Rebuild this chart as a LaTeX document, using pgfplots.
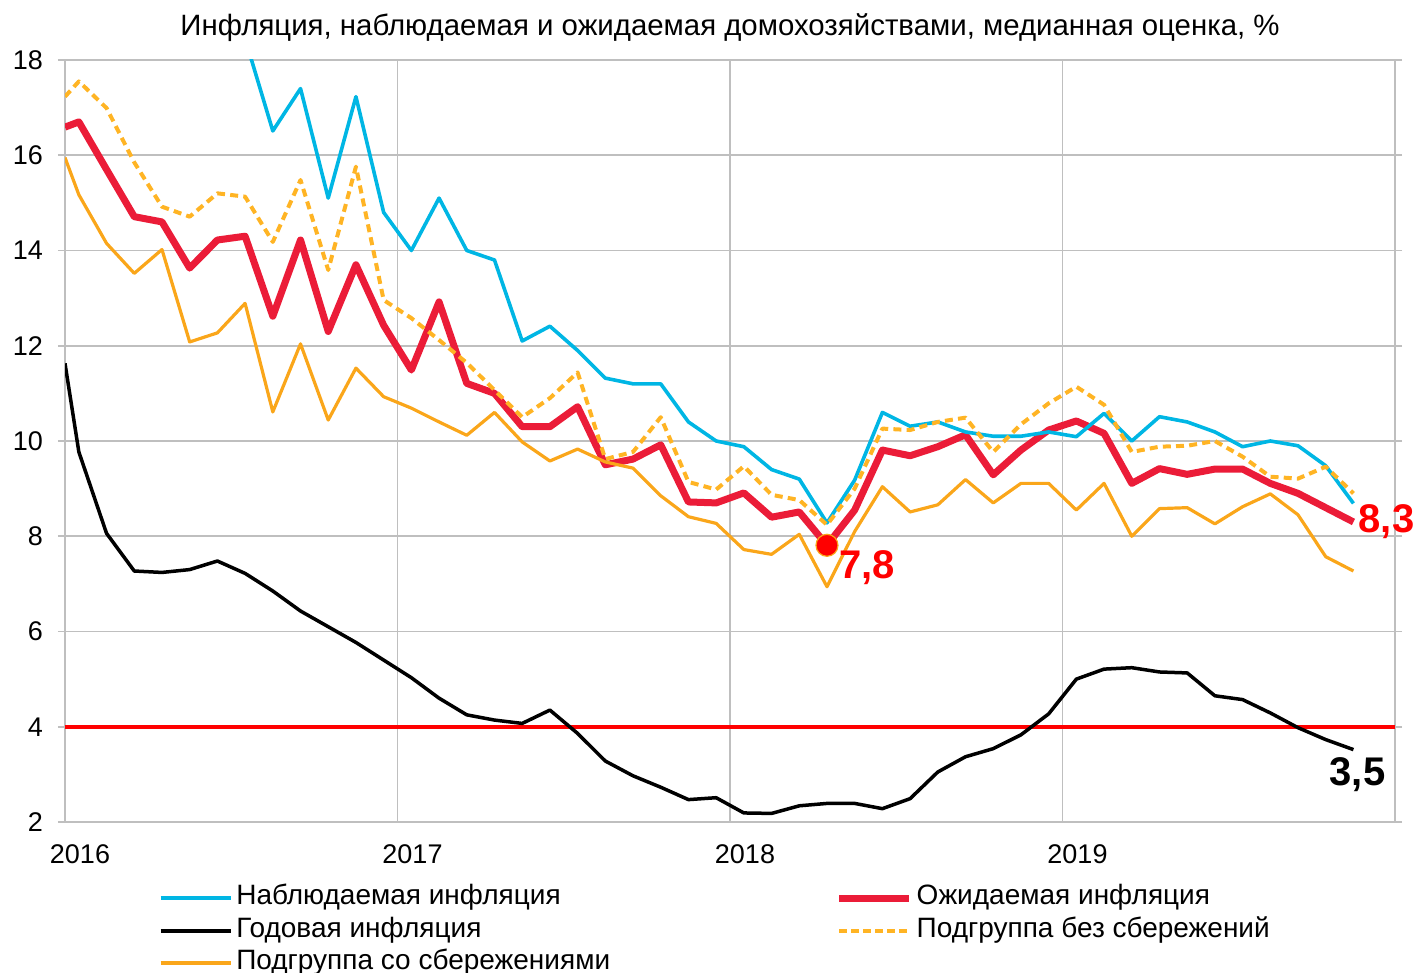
\documentclass[border=0pt]{standalone}
\usepackage{pgfplots}
\pgfplotsset{compat=1.18}
\usepackage{fontspec}
\setmainfont{Liberation Sans}
\definecolor{cblue}{RGB}{0,182,228}
\definecolor{cred}{RGB}{235,28,56}
\definecolor{pred}{RGB}{255,0,0}
\definecolor{corange}{RGB}{250,166,26}
\definecolor{cdash}{RGB}{255,180,36}
\definecolor{cgrid}{RGB}{191,191,191}
\begin{document}
\begin{tikzpicture}
\path[use as bounding box] (-32.5pt,-75.5pt) rectangle (674pt,411pt);
\begin{axis}[
  scale only axis, width=665pt, height=381pt,
  xmin=0, xmax=48, ymin=2, ymax=18,
  clip mode=individual,
  /pgf/number format/assume math mode=true,
  font=\fontsize{13.5}{15}\selectfont,
  xtick={0,12,24,36,48}, xticklabels={2016,2017,2018,2019,},
  xticklabel style={xshift=7.5pt, yshift=-4.5pt},
  major x tick style={draw=none},
  ytick={2,4,...,18},
  tick align=outside, major tick length=3.5pt,
  major y tick style={cgrid, line width=0.9pt},
  yticklabel style={xshift=-4pt},
  grid=major, major grid style={cgrid, line width=0.9pt},
  axis line style={cgrid, line width=0.9pt},
  title={Инфляция, наблюдаемая и ожидаемая домохозяйствами, медианная оценка, \%},
  title style={at={(0.5,1)}, anchor=base, yshift=6pt, font=\fontsize{14.7}{16}\selectfont},
  legend columns=2,
  legend cell align=left,
  legend style={draw=none, fill=none, at={(0.07,-0.078)}, anchor=north west,
    font=\fontsize{14}{16}\selectfont, inner sep=0pt, row sep=0pt,
    nodes={inner sep=1.9pt, text height=9.5pt, text depth=3pt},
    /tikz/column 2/.style={column sep=111pt}},
  legend image code/.code={\draw[#1] (0pt,0pt) -- (35pt,0pt);},
]
% 4% target
\addplot[forget plot, pred, line width=2pt] coordinates {(0,4) (48,4)};
% Expected inflation (red)
\addplot[forget plot, cred, line width=3.5pt, line join=round] coordinates {
(0,16.59) (0.5,16.7) (1.5,15.7) (2.5,14.71) (3.5,14.6) (4.5,13.63) (5.5,14.22) (6.5,14.3)
(7.5,12.62) (8.5,14.22) (9.5,12.3) (10.5,13.7) (11.5,12.43) (12.5,11.49) (13.5,12.92)
(14.5,11.21) (15.5,11.0) (16.5,10.3) (17.5,10.3) (18.5,10.72) (19.5,9.5) (20.5,9.62)
(21.5,9.92) (22.5,8.72) (23.5,8.7) (24.5,8.91) (25.5,8.4) (26.5,8.51) (27.5,7.81)
(28.5,8.55) (29.5,9.81) (30.5,9.69) (31.5,9.88) (32.5,10.13) (33.5,9.29) (34.5,9.81)
(35.5,10.23) (36.5,10.42) (37.5,10.16) (38.5,9.11) (39.5,9.42) (40.5,9.3) (41.5,9.41)
(42.5,9.41) (43.5,9.11) (44.5,8.9) (45.5,8.6) (46.5,8.3)};
% Annual inflation (black)
\addplot[forget plot, black, line width=1.75pt, line join=round] coordinates {
(0,11.63) (0.5,9.77) (1.5,8.06) (2.5,7.27) (3.5,7.24) (4.5,7.3) (5.5,7.48) (6.5,7.22)
(7.5,6.85) (8.5,6.43) (9.5,6.1) (10.5,5.77) (11.5,5.4) (12.5,5.03) (13.5,4.6)
(14.5,4.25) (15.5,4.14) (16.5,4.07) (17.5,4.35) (18.5,3.86) (19.5,3.28) (20.5,2.97)
(21.5,2.73) (22.5,2.47) (23.5,2.51) (24.5,2.19) (25.5,2.18) (26.5,2.34) (27.5,2.39)
(28.5,2.39) (29.5,2.28) (30.5,2.49) (31.5,3.05) (32.5,3.37) (33.5,3.54) (34.5,3.83)
(35.5,4.27) (36.5,5.0) (37.5,5.21) (38.5,5.24) (39.5,5.15) (40.5,5.13) (41.5,4.65)
(42.5,4.57) (43.5,4.29) (44.5,3.98) (45.5,3.73) (46.5,3.52)};
% Observed inflation (blue)
\addplot[forget plot, cblue, line width=1.8pt, line join=round] coordinates {
(6.5,18.45)
(7.5,16.51) (8.5,17.4) (9.5,15.1) (10.5,17.23) (11.5,14.8) (12.5,14.0) (13.5,15.1)
(14.5,14.0) (15.5,13.8) (16.5,12.1) (17.5,12.41) (18.5,11.9) (19.5,11.32) (20.5,11.2)
(21.5,11.2) (22.5,10.4) (23.5,10.0) (24.5,9.88) (25.5,9.4) (26.5,9.2) (27.5,8.28)
(28.5,9.18) (29.5,10.6) (30.5,10.31) (31.5,10.4) (32.5,10.19) (33.5,10.1) (34.5,10.1)
(35.5,10.19) (36.5,10.09) (37.5,10.58) (38.5,10.0) (39.5,10.51) (40.5,10.4) (41.5,10.19)
(42.5,9.88) (43.5,10.0) (44.5,9.9) (45.5,9.48) (46.5,8.69)};
% With savings (orange solid)
\addplot[forget plot, corange, line width=1.6pt, line join=round] coordinates {
(0,15.95) (0.5,15.17) (1.5,14.15) (2.5,13.52) (3.5,14.02) (4.5,12.08) (5.5,12.27) (6.5,12.89)
(7.5,10.61) (8.5,12.04) (9.5,10.44) (10.5,11.53) (11.5,10.93) (12.5,10.69) (13.5,10.4)
(14.5,10.12) (15.5,10.6) (16.5,9.98) (17.5,9.58) (18.5,9.83) (19.5,9.56) (20.5,9.43)
(21.5,8.85) (22.5,8.41) (23.5,8.27) (24.5,7.72) (25.5,7.62) (26.5,8.04) (27.5,6.94)
(28.5,8.1) (29.5,9.04) (30.5,8.51) (31.5,8.66) (32.5,9.19) (33.5,8.7) (34.5,9.11)
(35.5,9.11) (36.5,8.55) (37.5,9.11) (38.5,8.0) (39.5,8.58) (40.5,8.6) (41.5,8.26)
(42.5,8.62) (43.5,8.89) (44.5,8.45) (45.5,7.57) (46.5,7.27)};
% Without savings (orange dashed)
\addplot[forget plot, cdash, line width=2pt, dash pattern=on 4pt off 2.6pt, line join=round] coordinates {
(0,17.23) (0.5,17.55) (1.5,16.99) (2.5,15.85) (3.5,14.92) (4.5,14.71) (5.5,15.2) (6.5,15.13)
(7.5,14.18) (8.5,15.48) (9.5,13.59) (10.5,15.76) (11.5,12.96) (12.5,12.58) (13.5,12.12)
(14.5,11.64) (15.5,11.07) (16.5,10.5) (17.5,10.9) (18.5,11.44) (19.5,9.62) (20.5,9.77)
(21.5,10.5) (22.5,9.14) (23.5,8.98) (24.5,9.47) (25.5,8.87) (26.5,8.76) (27.5,8.24)
(28.5,9.0) (29.5,10.26) (30.5,10.23) (31.5,10.4) (32.5,10.49) (33.5,9.77) (34.5,10.35)
(35.5,10.79) (36.5,11.14) (37.5,10.76) (38.5,9.77) (39.5,9.88) (40.5,9.9) (41.5,10.0)
(42.5,9.67) (43.5,9.25) (44.5,9.21) (45.5,9.46) (46.5,8.9)};
% Minimum marker
\addplot[forget plot, only marks, mark=*, mark size=5.5pt, mark options={fill=pred, draw=corange, line width=0.6pt}] coordinates {(27.5,7.81)};
% Labels
\node[anchor=west, text=pred, font=\fontsize{20}{22}\selectfont\bfseries, xshift=2.5pt, yshift=-11pt] at (axis cs:27.5,7.81) {7,8};
\node[anchor=west, text=pred, font=\fontsize{20}{22}\selectfont\bfseries, xshift=-0.9pt] at (axis cs:46.5,8.3) {8,3};
\node[anchor=center, text=black, font=\fontsize{20}{22}\selectfont\bfseries, xshift=2pt, yshift=-12.5pt] at (axis cs:46.5,3.52) {3,5};
% Legend
\addlegendimage{cblue, line width=2pt}
\addlegendentry{Наблюдаемая инфляция}
\addlegendimage{cred, line width=3.5pt}
\addlegendentry{Ожидаемая инфляция}
\addlegendimage{black, line width=2pt}
\addlegendentry{Годовая инфляция}
\addlegendimage{cdash, line width=2pt, dash pattern=on 4pt off 2pt}
\addlegendentry{Подгруппа без сбережений}
\addlegendimage{corange, line width=2pt}
\addlegendentry{Подгруппа со сбережениями}
\end{axis}
\end{tikzpicture}
\end{document}
